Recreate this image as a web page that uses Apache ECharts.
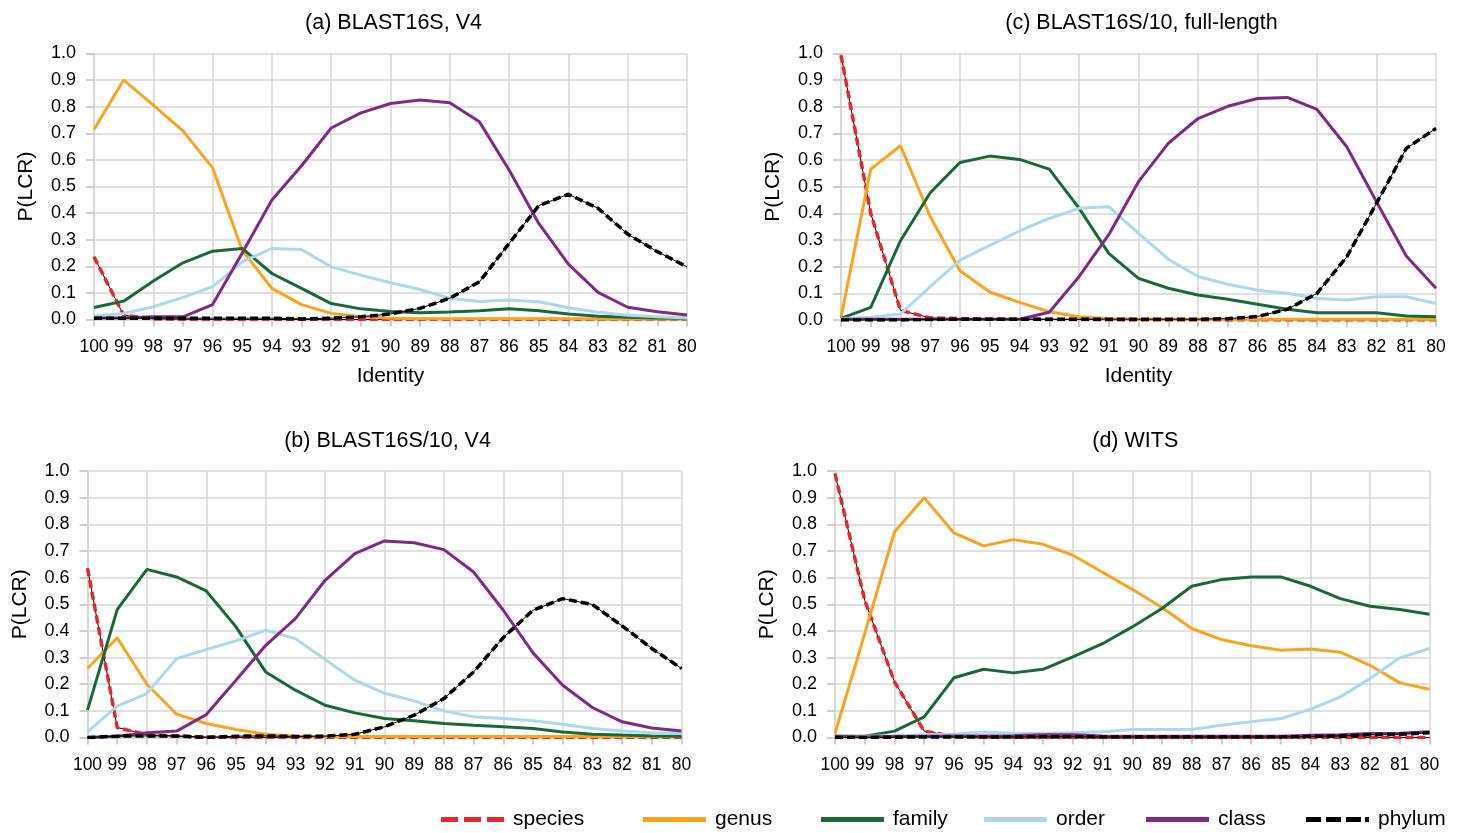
<!DOCTYPE html>
<html>
<head>
<meta charset="utf-8">
<script src="https://cdn.jsdelivr.net/npm/echarts@6/dist/echarts.min.js"></script>
<style>
  html, body { margin: 0; padding: 0; background: #fff; }
  #chart { width: 1460px; height: 833px; }
</style>
</head>
<body>
<div id="chart"></div>
<script>
// x categories (identity %)
const identity = ['100','99','98','97','96','95','94','93','92','91','90','89','88','87','86','85','84','83','82','81','80']

// (a) BLAST16S, V4
const speciesA = [0.236,0.016,0.002,0.001,0,0,0,0,0,0,0,0,0,0,0,0,0,0,0,0,0]
const genusA = [0.714,0.90,0.806,0.709,0.57,0.26,0.117,0.056,0.023,0.01,0.005,0.003,0.003,0.003,0.003,0.003,0.003,0.002,0.002,0.002,0.002]
const familyA = [0.045,0.069,0.145,0.213,0.257,0.267,0.173,0.117,0.06,0.04,0.03,0.025,0.028,0.033,0.04,0.033,0.021,0.012,0.008,0.006,0.005]
const orderA = [0.013,0.023,0.048,0.083,0.123,0.217,0.267,0.263,0.198,0.167,0.138,0.113,0.08,0.068,0.073,0.067,0.044,0.027,0.016,0.01,0.006]
const classA = [0.006,0.006,0.01,0.01,0.056,0.25,0.449,0.578,0.72,0.777,0.812,0.825,0.815,0.743,0.562,0.361,0.208,0.102,0.046,0.029,0.017]
const phylumA = [0.005,0.005,0.005,0.005,0.005,0.005,0.005,0.002,0.005,0.01,0.021,0.042,0.08,0.142,0.286,0.428,0.471,0.418,0.321,0.255,0.198]

// (b) BLAST16S/10, V4
const speciesB = [0.635,0.0375,0.01,0.005,0.002,0,0,0,0,0,0,0,0,0,0,0,0,0,0,0,0]
const genusB = [0.259,0.374,0.2,0.0875,0.0525,0.03,0.0125,0.005,0.004,0.004,0.004,0.004,0.004,0.004,0.004,0.004,0.004,0.004,0.004,0.004,0.004]
const familyB = [0.1025,0.48,0.631,0.6025,0.55,0.415,0.246,0.1775,0.121,0.0925,0.071,0.0625,0.0525,0.046,0.04,0.034,0.021,0.0125,0.009,0.006,0.005]
const orderB = [0.021,0.1175,0.165,0.296,0.33,0.3625,0.4025,0.371,0.2925,0.215,0.166,0.1375,0.1,0.0775,0.071,0.0625,0.05,0.034,0.024,0.0175,0.015]
const classB = [0,0.005,0.0175,0.024,0.086,0.215,0.346,0.446,0.59,0.69,0.7375,0.731,0.705,0.621,0.4775,0.3175,0.196,0.1125,0.059,0.036,0.024]
const phylumB = [0,0.005,0.006,0.006,0,0.005,0.006,0.004,0.005,0.012,0.04,0.084,0.146,0.246,0.375,0.4775,0.521,0.499,0.419,0.334,0.259]

// (c) BLAST16S/10, full-length
const speciesC = [0.994,0.40,0.036,0.008,0.005,0.003,0.003,0.002,0.002,0.001,0,0,0,0,0,0,0,0,0,0,0]
const genusC = [0.01,0.566,0.654,0.3875,0.185,0.105,0.066,0.031,0.012,0.005,0.003,0.003,0.003,0.003,0.003,0.003,0.003,0.003,0.003,0.003,0.003]
const familyC = [0.006,0.0475,0.2975,0.4775,0.591,0.615,0.6025,0.566,0.42,0.25,0.156,0.119,0.094,0.078,0.059,0.04,0.027,0.027,0.027,0.015,0.012]
const orderC = [0.005,0.01,0.0225,0.125,0.225,0.28,0.334,0.381,0.419,0.425,0.325,0.228,0.163,0.134,0.112,0.1,0.081,0.075,0.087,0.087,0.062]
const classC = [0.003,0.003,0.003,0.003,0.003,0.003,0.003,0.029,0.1625,0.32,0.519,0.663,0.756,0.802,0.831,0.835,0.79,0.65,0.444,0.24,0.119]
const phylumC = [0,0,0,0.002,0.003,0.003,0.003,0.003,0.003,0.003,0.003,0.003,0.003,0.005,0.013,0.04,0.1,0.237,0.4375,0.644,0.719]

// (d) WITS
const speciesD = [0.99,0.515,0.209,0.024,0.005,0.002,0.001,0,0,0,0,0,0,0,0,0,0,0,0,0,0]
const genusD = [0.015,0.39,0.771,0.9,0.7675,0.719,0.7425,0.725,0.684,0.62,0.556,0.4875,0.409,0.3675,0.344,0.3275,0.3325,0.32,0.271,0.205,0.181]
const familyD = [0.005,0.005,0.024,0.0775,0.224,0.256,0.2425,0.256,0.3025,0.352,0.415,0.484,0.5675,0.5925,0.6025,0.6025,0.5675,0.521,0.4925,0.48,0.4625]
const orderD = [0.005,0.005,0.007,0.01,0.012,0.021,0.016,0.015,0.018,0.022,0.03,0.03,0.03,0.046,0.059,0.071,0.106,0.1525,0.221,0.299,0.334]
const classD = [0.005,0.002,0.004,0.005,0.006,0.006,0.007,0.01,0.01,0.006,0.005,0.005,0.005,0.005,0.005,0.005,0.008,0.01,0.015,0.016,0.022]
const phylumD = [0,0,0.001,0.002,0.002,0.002,0.002,0.003,0.003,0.002,0.002,0.002,0.002,0.002,0.002,0.002,0.004,0.006,0.01,0.012,0.018]

const panelTitles = ['(a) BLAST16S, V4', '(b) BLAST16S/10, V4', '(c) BLAST16S/10, full-length', '(d) WITS']
const panelData = [
  [speciesA, genusA, familyA, orderA, classA, phylumA],
  [speciesB, genusB, familyB, orderB, classB, phylumB],
  [speciesC, genusC, familyC, orderC, classC, phylumC],
  [speciesD, genusD, familyD, orderD, classD, phylumD]
]
const rankNames = ['species', 'genus', 'family', 'order', 'class', 'phylum']
const rankColors = ['#e8262e', '#fba31c', '#176a38', '#a9d9ea', '#7e2b84', '#000000']

// plot area boxes (px)
const boxes = [
  { left: 94, top: 53.5, width: 593, height: 266 },
  { left: 87.5, top: 471, width: 594, height: 266.5 },
  { left: 841, top: 53.5, width: 595, height: 266.5 },
  { left: 835, top: 471, width: 594.5, height: 266.5 }
]
const showIdentity = [true, false, true, false]

const FONT = '"Liberation Sans", Arial, sans-serif'
const gridGray = '#d6d6d6'

const chart = echarts.init(document.getElementById('chart'))

const grids = boxes.map(b => ({ left: b.left, top: b.top, width: b.width, height: b.height, containLabel: false }))

const titles = boxes.map((b, i) => ({
  text: panelTitles[i],
  left: b.left + b.width / 2 - 2,
  top: b.top - 46,
  textAlign: 'center',
  textStyle: { fontFamily: FONT, fontSize: 21.5, fontWeight: 'normal', color: '#000' }
}))

const xAxes = boxes.map((b, i) => ({
  type: 'category',
  gridIndex: i,
  data: identity,
  boundaryGap: false,
  name: showIdentity[i] ? 'Identity' : '',
  nameLocation: 'middle',
  nameGap: 46,
  nameTextStyle: { fontFamily: FONT, fontSize: 21, color: '#000' },
  axisLine: { show: true, lineStyle: { color: gridGray, width: 1.5 } },
  axisTick: { show: true, interval: 0, length: 7, lineStyle: { color: '#bdbdbd', width: 1.5 } },
  axisLabel: { interval: 0, margin: 18.5, fontFamily: FONT, fontSize: 17.5, color: '#000' },
  splitLine: { show: true, interval: 1, lineStyle: { color: gridGray, width: 1.5 } }
}))

const yAxes = boxes.map((b, i) => ({
  type: 'value',
  gridIndex: i,
  min: 0,
  max: 1,
  interval: 0.1,
  name: 'P(LCR)',
  nameLocation: 'middle',
  nameGap: 57,
  nameRotate: 90,
  nameTextStyle: { fontFamily: FONT, fontSize: 21, color: '#000' },
  axisLine: { show: true, lineStyle: { color: gridGray, width: 1.5 } },
  axisTick: { show: true, length: 8, lineStyle: { color: '#bdbdbd', width: 1.5 } },
  axisLabel: { margin: 18, fontFamily: FONT, fontSize: 18, color: '#000', formatter: v => v.toFixed(1) },
  splitLine: { show: true, lineStyle: { color: gridGray, width: 1.5 } }
}))

const series = []
panelData.forEach((ranks, p) => {
  ranks.forEach((vals, r) => {
    const dashed = r === 0 || r === 5
    if (dashed) {
      // thin black line under the dashed ones, as in the original
      series.push({
        name: rankNames[r] + '-core',
        type: 'line',
        xAxisIndex: p,
        yAxisIndex: p,
        data: vals,
        symbol: 'none',
        silent: true,
        z: 2 + r,
        lineStyle: { color: '#000', width: 1 }
      })
    }
    series.push({
      name: rankNames[r],
      type: 'line',
      xAxisIndex: p,
      yAxisIndex: p,
      data: vals,
      symbol: 'none',
      z: 2 + r,
      itemStyle: { color: rankColors[r] },
      lineStyle: {
        color: rankColors[r],
        width: dashed ? 3.5 : 3,
        type: dashed ? [8, 4] : 'solid'
      }
    })
  })
})

// legend swatches: plain bar, or dashes for species / phylum
const legendIcons = [
  'path://M0,0h17v5h-17z M23,0h17v5h-17z M46,0h17v5h-17z',
  'rect', 'rect', 'rect', 'rect',
  'path://M0,0h15v5h-15z M20,0h15v5h-15z M40,0h15v5h-15z M59,0h4v5h-4z'
]
// one legend per item so each sits where it does in the original
const legendLeft = [436, 638, 816, 979, 1141, 1301]
const legends = rankNames.map((n, i) => ({
  left: legendLeft[i],
  top: 804,
  itemWidth: 63,
  itemHeight: 5,
  selectedMode: false,
  textStyle: { fontFamily: FONT, fontSize: 21, color: '#000', padding: [0, 0, 0, 4] },
  data: [{
    name: n,
    icon: legendIcons[i],
    itemStyle: { color: rankColors[i] }
  }]
}))

chart.setOption({
  backgroundColor: '#fff',
  animation: false,
  title: titles,
  grid: grids,
  xAxis: xAxes,
  yAxis: yAxes,
  legend: legends,
  series: series
})
</script>
</body>
</html>
